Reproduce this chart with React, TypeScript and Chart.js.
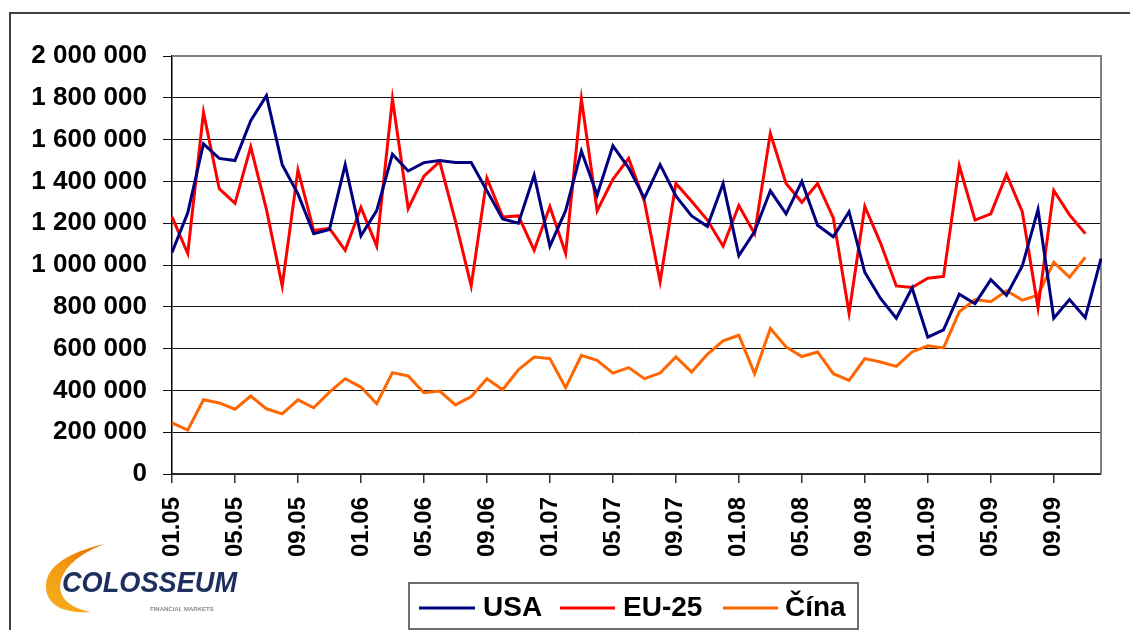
import React, { useEffect, useRef } from 'react';
import { Chart, registerables } from 'chart.js';
Chart.register(...registerables);

const categories = [
  '01.05','02.05','03.05','04.05','05.05','06.05','07.05','08.05','09.05','10.05','11.05','12.05',
  '01.06','02.06','03.06','04.06','05.06','06.06','07.06','08.06','09.06','10.06','11.06','12.06',
  '01.07','02.07','03.07','04.07','05.07','06.07','07.07','08.07','09.07','10.07','11.07','12.07',
  '01.08','02.08','03.08','04.08','05.08','06.08','07.08','08.08','09.08','10.08','11.08','12.08',
  '01.09','02.09','03.09','04.09','05.09','06.09','07.09','08.09','09.09','10.09','11.09','12.09',
];

const usa = [
  1060000, 1250000, 1580000, 1510000, 1500000, 1690000, 1810000, 1480000, 1340000, 1150000, 1170000, 1480000,
  1140000, 1260000, 1530000, 1450000, 1490000, 1500000, 1490000, 1490000, 1355000, 1220000, 1200000, 1430000,
  1090000, 1260000, 1545000, 1335000, 1570000, 1465000, 1320000, 1480000, 1330000, 1235000, 1185000, 1390000,
  1045000, 1160000, 1355000, 1245000, 1400000, 1190000, 1135000, 1255000, 965000, 840000, 745000, 890000,
  655000, 690000, 860000, 815000, 930000, 855000, 995000, 1265000, 745000, 835000, 748000, 1030000,
];

const eu25 = [
  1230000, 1055000, 1730000, 1365000, 1295000, 1565000, 1265000, 900000, 1455000, 1165000, 1175000, 1070000,
  1275000, 1090000, 1795000, 1270000, 1425000, 1495000, 1210000, 900000, 1415000, 1230000, 1235000, 1070000,
  1280000, 1055000, 1795000, 1260000, 1410000, 1510000, 1305000, 920000, 1390000, 1305000, 1215000, 1090000,
  1285000, 1150000, 1630000, 1390000, 1300000, 1390000, 1225000, 770000, 1280000, 1105000, 900000, 892000,
  937000, 945000, 1475000, 1215000, 1245000, 1433000, 1255000, 795000, 1357000, 1240000, 1150000,
];

const china = [
  245000, 210000, 355000, 340000, 310000, 373000, 312000, 288000, 355000, 317000, 392000, 456000,
  416000, 336000, 485000, 469000, 389000, 397000, 331000, 371000, 456000, 403000, 499000, 560000,
  552000, 413000, 568000, 544000, 483000, 509000, 456000, 483000, 560000, 488000, 573000, 637000,
  664000, 480000, 696000, 608000, 562000, 584000, 480000, 448000, 552000, 536000, 515000, 584000,
  613000, 603000, 776000, 835000, 824000, 877000, 832000, 856000, 1013000, 941000, 1037000,
];

const seriesNames = ['USA', 'EU-25', 'Čína'];
const seriesColors = ['#000080', '#FF0000', '#FF6600'];
const yMin = 0;
const yMax = 2000000;
const yStep = 200000;

const FONT = "'Liberation Sans', Arial, sans-serif";

const fmt = (v: number) => String(v).replace(/\B(?=(\d{3})+(?!\d))/g, ' ');

const framePlugin = {
  id: 'frame',
  beforeDraw(chart: any) {
    const ctx = chart.ctx;
    ctx.save();
    ctx.fillStyle = '#fff';
    ctx.fillRect(0, 0, chart.width, chart.height);
    ctx.strokeStyle = '#404040';
    ctx.lineWidth = 2;
    ctx.beginPath();
    ctx.moveTo(10, 640);
    ctx.lineTo(10, 13);
    ctx.lineTo(1135, 13);
    ctx.stroke();

    // logo swoosh (C-shaped crescent)
    const g = ctx.createLinearGradient(45, 612, 105, 544);
    g.addColorStop(0, '#f7b020');
    g.addColorStop(0.5, '#f39a10');
    g.addColorStop(1, '#e86a00');
    ctx.fillStyle = g;
    ctx.beginPath();
    ctx.moveTo(104, 544);
    ctx.quadraticCurveTo(38, 560, 47, 594);
    ctx.quadraticCurveTo(54, 614, 90, 612);
    ctx.quadraticCurveTo(62, 606, 60, 588);
    ctx.quadraticCurveTo(60, 562, 104, 544);
    ctx.closePath();
    ctx.fill();

    // logo text
    ctx.save();
    ctx.translate(62, 592);
    ctx.scale(0.97, 1.05);
    ctx.fillStyle = '#1c2f5e';
    ctx.font = `italic bold 28px ${FONT}`;
    ctx.textBaseline = 'alphabetic';
    ctx.fillText('COLOSSEUM', 0, 0);
    ctx.restore();
    ctx.fillStyle = '#8a8a8a';
    ctx.font = `bold 6px ${FONT}`;
    ctx.fillText('FINANCIAL MARKETS', 150, 611);
    ctx.restore();
  },
  beforeDatasetsDraw(chart: any) {
    const { ctx, chartArea } = chart;
    ctx.save();
    ctx.strokeStyle = '#808080';
    ctx.lineWidth = 2;
    ctx.beginPath();
    ctx.moveTo(chartArea.left, chartArea.top);
    ctx.lineTo(chartArea.right, chartArea.top);
    ctx.lineTo(chartArea.right, chartArea.bottom);
    ctx.stroke();
    ctx.restore();
  },
  afterDraw(chart: any) {
    const ctx = chart.ctx;
    ctx.save();
    ctx.strokeStyle = '#404040';
    ctx.lineWidth = 1.5;
    ctx.fillStyle = '#fff';
    ctx.fillRect(409, 583, 449, 46);
    ctx.strokeRect(409, 583, 449, 46);
    const items = [
      { x1: 419, x2: 475, tx: 483 },
      { x1: 560, x2: 615, tx: 623 },
      { x1: 723, x2: 778, tx: 785 },
    ];
    ctx.font = `bold 28px ${FONT}`;
    ctx.textBaseline = 'middle';
    chart.data.datasets.forEach((ds: any, i: number) => {
      const it = items[i];
      ctx.strokeStyle = ds.borderColor;
      ctx.lineWidth = 3;
      ctx.beginPath();
      ctx.moveTo(it.x1, 608);
      ctx.lineTo(it.x2, 608);
      ctx.stroke();
      ctx.fillStyle = '#000';
      ctx.fillText(ds.label, it.tx, 608);
    });
    ctx.restore();
  },
};

export default function App() {
  const ref = useRef<HTMLCanvasElement>(null);
  useEffect(() => {
    if (!ref.current) return;
    const chart = new Chart(ref.current, {
      type: 'line',
      data: {
        labels: categories,
        datasets: [usa, eu25, china].map((d, i) => ({
          label: seriesNames[i],
          data: d,
          borderColor: seriesColors[i],
          backgroundColor: seriesColors[i],
          borderWidth: 3,
          pointRadius: 0,
          tension: 0,
          fill: false,
        })),
      },
      options: {
        responsive: false,
        animation: false,
        layout: { padding: { top: 56, right: 29, left: 0, bottom: 0 } },
        plugins: { legend: { display: false }, tooltip: { enabled: false } },
        scales: {
          x: {
            type: 'category',
            offset: false,
            afterBuildTicks: (scale: any) => {
              scale.ticks = scale.ticks.filter((t: any) => t.value % 4 === 0);
            },
            afterFit: (scale: any) => { scale.height = 156; },
            grid: { drawOnChartArea: false, drawTicks: true, tickLength: 9, color: '#333', lineWidth: 1.5 },
            border: { display: true, color: '#333', width: 1.5 },
            ticks: {
              autoSkip: false,
              maxRotation: 90,
              minRotation: 90,
              padding: 14,
              color: '#000',
              font: { family: FONT, size: 24, weight: 'bold' },
              callback: function (this: any, v: any) { return this.getLabelForValue(v); },
            },
          },
          y: {
            min: yMin,
            max: yMax,
            afterFit: (scale: any) => { scale.width = 172; },
            grid: { color: '#111', lineWidth: 1, tickLength: 9, drawTicks: true },
            border: { display: true, color: '#000', width: 1.5 },
            ticks: {
              stepSize: yStep,
              padding: 16,
              color: '#000',
              font: { family: FONT, size: 26, weight: 'bold' },
              callback: (v: any) => fmt(Number(v)),
            },
          },
        },
      },
      plugins: [framePlugin],
    } as any);
    return () => chart.destroy();
  }, []);
  return (
    <div style={{ position: 'fixed', left: 0, top: 0, width: 1130, height: 630 }}>
      <canvas ref={ref} width={1130} height={630} style={{ width: 1130, height: 630 }} />
    </div>
  );
}
